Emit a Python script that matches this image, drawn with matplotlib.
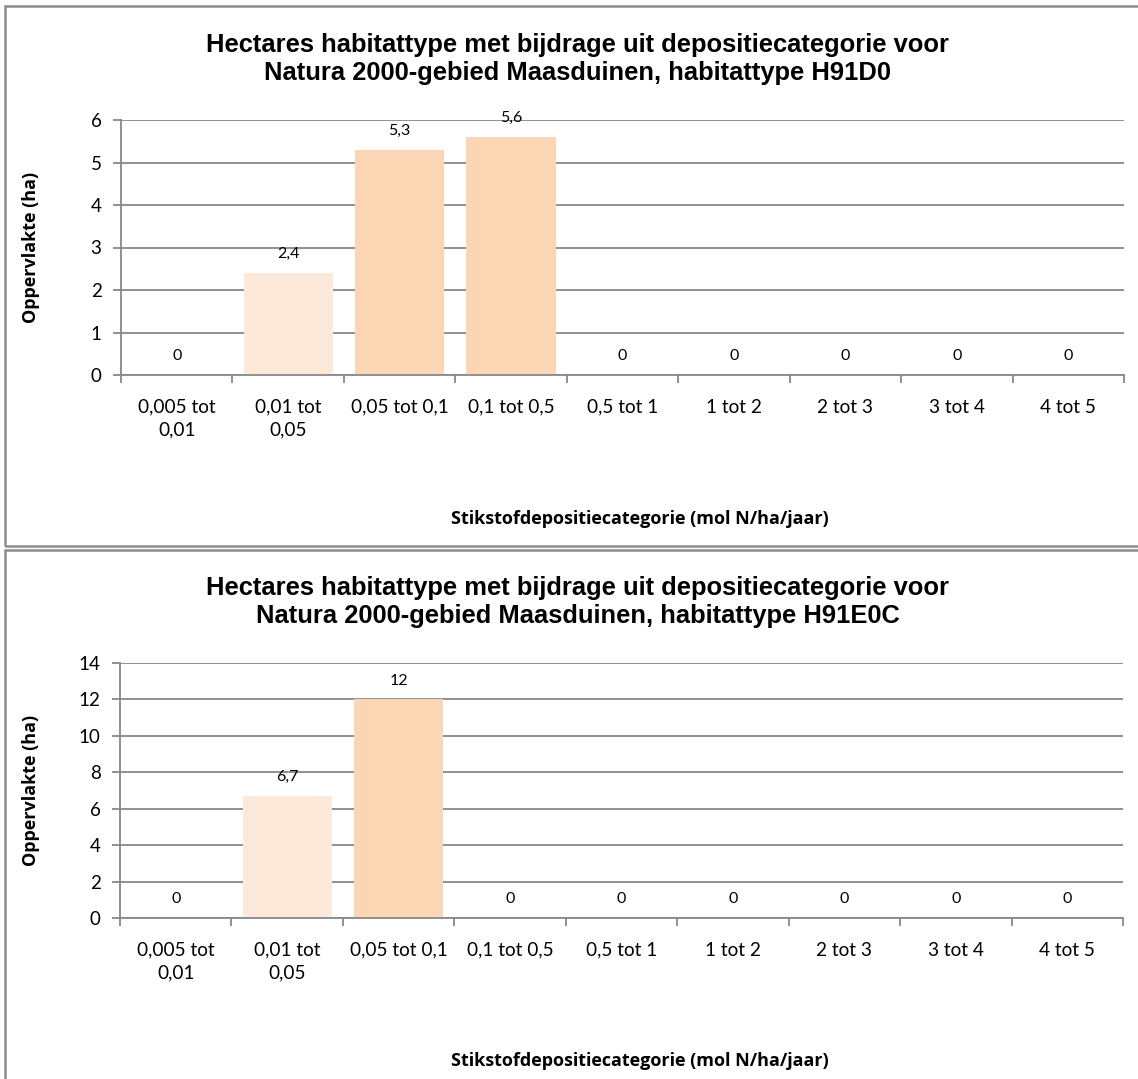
# Plot hectares per deposition category for two habitat types

import matplotlib.pyplot as plt
from matplotlib.patches import Rectangle

categories = ["0,005 tot\n0,01", "0,01 tot\n0,05", "0,05 tot 0,1", "0,1 tot 0,5",
              "0,5 tot 1", "1 tot 2", "2 tot 3", "3 tot 4", "4 tot 5"]
h91d0_values = [0, 2.4, 5.3, 5.6, 0, 0, 0, 0, 0]
h91e0c_values = [0, 6.7, 12, 0, 0, 0, 0, 0, 0]

title_base = "Hectares habitattype met bijdrage uit depositiecategorie voor\nNatura 2000-gebied Maasduinen, habitattype "
habitats = ["H91D0", "H91E0C"]

LIGHT = "#fde9d9"
DARK = "#fcd5b5"
GRID = "#888888"
W, H = 1138, 1079


def fmt(v):
    if v == int(v):
        return str(int(v))
    return f"{v}".replace(".", ",")


def bar_colors(values):
    # lightest colour for the first non-zero class, darker after that
    cols = []
    first = True
    for v in values:
        if v > 0 and first:
            cols.append(LIGHT)
            first = False
        else:
            cols.append(DARK)
    return cols


def draw_panel(fig, values, habitat, ymax, ystep, box, axpix, xlab_y):
    # box: (top, bottom) of panel border in pixels; axpix: (left, top, right, bottom)
    top, bottom = box
    fig.patches.append(Rectangle((5 / W, 1 - bottom / H), 1.2, (bottom - top) / H,
                                 transform=fig.transFigure, fill=False,
                                 edgecolor="#8c8c8c", linewidth=1.8))
    l, t, r, b = axpix
    ax = fig.add_axes([l / W, 1 - b / H, (r - l) / W, (b - t) / H])
    x = range(len(values))
    ax.bar(x, values, width=0.8, color=bar_colors(values), zorder=2)
    ax.set_xlim(-0.5, len(values) - 0.5)
    ax.set_ylim(0, ymax)
    ax.set_yticks(range(0, ymax + 1, ystep))
    ax.grid(axis="y", color=GRID, linewidth=1.3, zorder=0)
    for s in ["top", "right"]:
        ax.spines[s].set_visible(False)
    for s in ["left", "bottom"]:
        ax.spines[s].set_color(GRID)
        ax.spines[s].set_linewidth(1.3)
    ax.set_xticks([i + 0.5 for i in range(-1, len(values))], minor=False)
    ax.set_xticklabels([])
    ax.tick_params(axis="x", length=6, color=GRID, width=1.3)
    ax.set_xticks(list(x), minor=True)
    ax.set_xticklabels(categories, minor=True, fontsize=13.7, family="Lato",
                       linespacing=1.4, va="top")
    ax.tick_params(axis="x", which="minor", length=0, pad=17)
    ax.tick_params(axis="y", length=6, color=GRID, width=1.3, labelsize=13.5, pad=8)
    for lab in ax.get_yticklabels():
        lab.set_family("Lato")
    for i, v in enumerate(values):
        ax.annotate(fmt(v), (i, v), xytext=(0, 8.5), textcoords="offset points",
                    ha="center", va="bottom", fontsize=11.5, family="Lato")
    ax.set_ylabel("Oppervlakte (ha)", fontsize=13, fontweight="bold", family="Open Sans")
    ax.yaxis.set_label_coords(-(l - 40) / (r - l), 0.5)
    ax.set_xlabel("Stikstofdepositiecategorie (mol N/ha/jaar)", fontsize=13,
                  fontweight="bold", family="Open Sans")
    ax.xaxis.set_label_coords((640 - l) / (r - l), -(xlab_y - b) / (b - t))
    fig.text(578 / W, 1 - (t - 61) / H, title_base + habitat, ha="center", va="center",
             fontsize=18.4, fontweight="bold", family="Liberation Sans", linespacing=1.2)
    return ax


fig = plt.figure(figsize=(W / 100, H / 100), dpi=100)

draw_panel(fig, h91d0_values, habitats[0], 6, 1, (6, 546), (121, 120, 1124, 375), 510)
draw_panel(fig, h91e0c_values, habitats[1], 14, 2, (550, 1085), (120, 663, 1123, 918), 1052)

plt.savefig("out.png", dpi=100)
